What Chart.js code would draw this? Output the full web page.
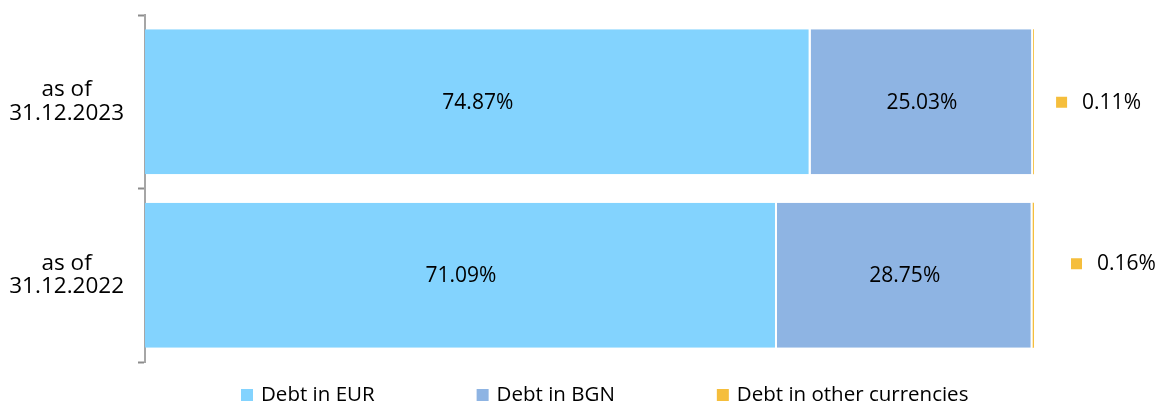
<!DOCTYPE html>
<html><head><meta charset="utf-8">
<script src="https://cdn.jsdelivr.net/npm/chart.js@4.4.1/dist/chart.umd.min.js"></script>
<style>html,body{margin:0;padding:0;background:#fff}#wrap{width:1159px;height:405px;position:relative}</style>
</head><body><div id="wrap"><canvas id="c"></canvas></div>
<script>
const categories = [['as of', '31.12.2023'], ['as of', '31.12.2022']];
const seriesNames = ['Debt in EUR', 'Debt in BGN', 'Debt in other currencies'];
const debtEUR = [74.87, 71.09];
const debtBGN = [25.03, 28.75];
const debtOther = [0.11, 0.16];
const seriesColors = ['#83D3FE', '#8EB4E3', '#F5BE3C'];

const FONT = "'Open Sans', 'Noto Sans', sans-serif";

const labelPlugin = {
  id: 'barLabels',
  afterDatasetsDraw(chart, args, opts) {
    const ctx = chart.ctx;
    ctx.save();
    ctx.font = '21px ' + FONT;
    ctx.fillStyle = '#000';
    ctx.textBaseline = 'middle';
    chart.data.datasets.forEach((ds, di) => {
      const meta = chart.getDatasetMeta(di);
      meta.data.forEach((bar, i) => {
        const txt = ds.data[i].toFixed(2) + '%';
        if (di < 2) {
          ctx.textAlign = 'center';
          ctx.fillText(txt, (bar.x + bar.base) / 2, bar.y + 1);
        } else {
          const x = bar.x + opts.outsideDx[i];
          const y = bar.y + opts.outsideDy[i];
          ctx.fillStyle = ds.backgroundColor;
          ctx.fillRect(x, y - 5, 11, 11);
          ctx.fillStyle = '#000';
          ctx.textAlign = 'left';
          ctx.fillText(txt, x + 26, y + 1);
        }
      });
    });
    ctx.restore();
  }
};

const legendPlugin = {
  id: 'customLegend',
  afterDraw(chart, args, opts) {
    const ctx = chart.ctx;
    ctx.save();
    ctx.font = '20.5px ' + FONT;
    ctx.textBaseline = 'middle';
    ctx.textAlign = 'left';
    let x = opts.startX;
    const y = opts.y;
    chart.data.datasets.forEach(ds => {
      ctx.fillStyle = ds.backgroundColor;
      ctx.fillRect(x, y - 6, 12, 12);
      ctx.fillStyle = '#000';
      ctx.fillText(ds.label, x + 20, y);
      x += 20 + ctx.measureText(ds.label).width + opts.gap;
    });
    ctx.restore();
  }
};

const datasets = [debtEUR, debtBGN, debtOther].map((d, i) => ({
  label: seriesNames[i],
  data: d,
  backgroundColor: seriesColors[i],
  borderColor: '#ffffff',
  borderWidth: i < 2 ? {right: 2, top: 0, bottom: 0, left: 0} : 0,
  borderSkipped: false,
  barPercentage: 1,
  categoryPercentage: 0.836
}));

new Chart(document.getElementById('c'), {
  type: 'bar',
  data: { labels: categories, datasets },
  options: {
    indexAxis: 'y',
    responsive: true,
    maintainAspectRatio: false,
    animation: false,
    events: [],
    layout: { padding: { top: 15, bottom: 43, right: 125, left: 0 } },
    scales: {
      x: { stacked: true, min: 0, max: 100, display: false },
      y: {
        stacked: true,
        afterFit(scale) { scale.width = 145; scale.paddingTop = 0; scale.paddingBottom = 0; },
        border: { display: true, color: '#A6A6A6', width: 2 },
        grid: { display: true, offset: true, drawOnChartArea: false, drawTicks: true, tickLength: 7, tickWidth: 2, tickColor: '#8C8C8C', color: '#8C8C8C' },
        ticks: { crossAlign: 'center', padding: 14, color: '#000', font: { family: FONT, size: 22.5, lineHeight: 1.05 } }
      }
    },
    plugins: {
      legend: { display: false },
      tooltip: { enabled: false },
      barLabels: { outsideDx: [22, 37], outsideDy: [0, -12] },
      customLegend: { startX: 241, y: 395, gap: 102 }
    }
  },
  plugins: [labelPlugin, legendPlugin]
});
</script></body></html>
